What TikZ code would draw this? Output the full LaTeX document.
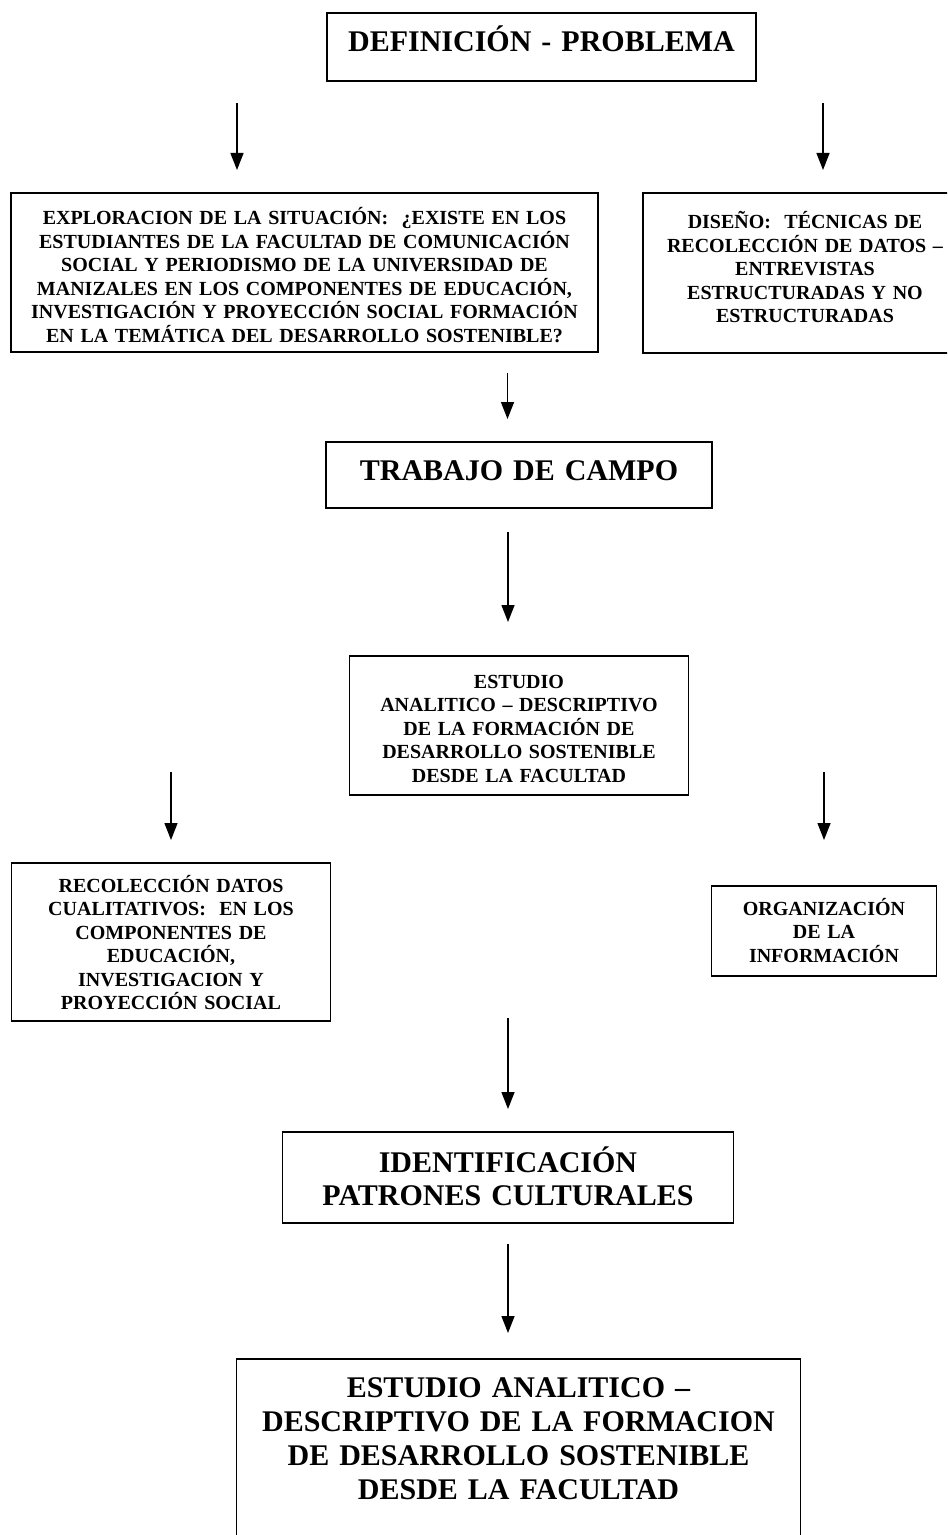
\documentclass[tikz,border=0pt]{standalone}
\usepackage{fontspec}
\setmainfont{Liberation Serif}
\usetikzlibrary{positioning, arrows.meta}

\begin{document}
\begin{tikzpicture}[
    box/.style={draw, line width=0.85pt, inner xsep=0pt, inner ysep=0pt, outer sep=0pt, align=center},
    smalltxt/.style={font=\fontsize{10}{11.75}\selectfont\bfseries},
    bigtxt/.style={font=\fontsize{15}{17}\selectfont\bfseries},
    arr/.style={-{Triangle[length=8.5pt, width=6.5pt]}, line width=0.7pt}]
      \path[use as bounding box, clip] (0,0) rectangle (473.5pt,-767.5pt);

      \node (def) [box, bigtxt, anchor=north, text width=214.5pt, text height=19.5pt, text depth=14.5pt] at (270.75pt,-6.5pt) {DEFINICIÓN - PROBLEMA};

      \node (expl) [box, smalltxt, below=56pt of def, xshift=-118.5pt, text width=293.5pt, text height=16pt, text depth=63.5pt]
        {EXPLORACION DE LA SITUACIÓN:\ \ ¿EXISTE EN LOS\\ESTUDIANTES DE LA FACULTAD DE COMUNICACIÓN\\SOCIAL Y PERIODISMO DE LA UNIVERSIDAD DE\\MANIZALES EN LOS COMPONENTES DE EDUCACIÓN,\\INVESTIGACIÓN Y PROYECCIÓN SOCIAL FORMACIÓN\\EN LA TEMÁTICA DEL DESARROLLO SOSTENIBLE?};
      \node (dis) [box, smalltxt, below=56pt of def, xshift=131.75pt, text width=162pt, text height=18pt, text depth=62pt]
        {DISEÑO:\ \ TÉCNICAS DE\\RECOLECCIÓN DE DATOS –\\ENTREVISTAS\\ESTRUCTURADAS Y NO\\ESTRUCTURADAS};

      \node (campo) [box, bigtxt, below=45pt of expl, xshift=107.25pt, text width=193pt, text height=19pt, text depth=14pt] {TRABAJO DE CAMPO};

      \node (est) [box, smalltxt, below=74pt of campo, text width=169.5pt, text height=16pt, text depth=53.5pt]
        {ESTUDIO\\ANALITICO – DESCRIPTIVO\\DE LA FORMACIÓN DE\\DESARROLLO SOSTENIBLE\\DESDE LA FACULTAD};

      \node (recol) [box, smalltxt, below=34pt of est, xshift=-174pt, text width=159.5pt, text height=14.5pt, text depth=64.5pt]
        {RECOLECCIÓN DATOS\\CUALITATIVOS:\ \ EN LOS\\COMPONENTES DE\\EDUCACIÓN,\\INVESTIGACION Y\\PROYECCIÓN SOCIAL};
      \node (org) [box, smalltxt, below=45.5pt of est, xshift=152.5pt, text width=112.5pt, text height=14.5pt, text depth=30.5pt]
        {ORGANIZACIÓN\\DE LA\\INFORMACIÓN};

      \node (ident) [box, bigtxt, font=\fontsize{15}{16.5}\selectfont\bfseries, below=168.5pt of est, xshift=-5.5pt, text width=225.5pt, text height=20pt, text depth=25.5pt]
        {IDENTIFICACIÓN\\PATRONES CULTURALES};

      \node (final) [box, bigtxt, below=68pt of ident, xshift=5.25pt, text width=282pt, text height=19pt, text depth=100pt]
        {ESTUDIO ANALITICO –\\DESCRIPTIVO DE LA FORMACION\\DE DESARROLLO SOSTENIBLE\\DESDE LA FACULTAD};

      \draw[arr, shorten <=11pt, shorten >=11.5pt] ([xshift=-33.75pt]expl.north |- def.south) -- ([xshift=-33.75pt]expl.north);
      \draw[arr, shorten <=11pt, shorten >=11.5pt] ([xshift=9pt]dis.north |- def.south) -- ([xshift=9pt]dis.north);
      \draw[arr, shorten <=10.5pt, shorten >=11.5pt] ([xshift=-5.75pt]campo.north |- expl.south) -- ([xshift=-5.75pt]campo.north);
      \draw[arr, shorten <=12pt, shorten >=17pt] ([xshift=-5.5pt]campo.south) -- ([xshift=-5.5pt]campo.south |- est.north);
      \draw[arr] ([yshift=11.5pt]recol.north |- est.south) -- ([yshift=11.5pt]recol.north);
      \draw[arr, shorten >=11.5pt] ([yshift=11.5pt]org.north |- est.south) -- ([yshift=11.5pt]org.north);
      \draw[arr, shorten >=11.5pt] ([yshift=1.5pt]ident.north |- recol.south) -- (ident.north);
      \draw[arr, shorten <=10.5pt, shorten >=13pt] (ident.south) -- (ident.south |- final.north);
    \end{tikzpicture}
\end{document}
